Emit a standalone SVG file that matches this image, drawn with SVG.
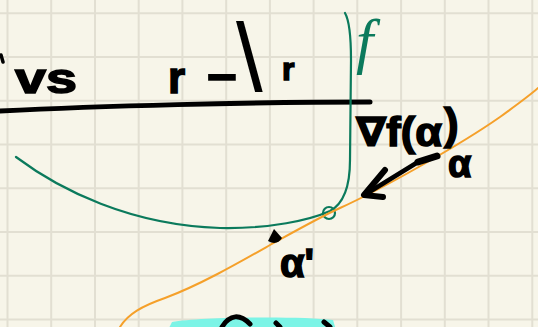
<svg xmlns="http://www.w3.org/2000/svg" width="538" height="327" viewBox="0 0 538 327">
  <style>
    .grid { stroke: #e2dfd2; stroke-width: 2; }
    .ink { fill: #000; stroke: #000; stroke-width: 1.5; font-family: "Liberation Sans", "DejaVu Sans", sans-serif; font-weight: bold; }
    .green { fill: none; stroke: #0b7a5c; stroke-width: 2.2; stroke-linecap: round; stroke-linejoin: round; }
    .orange { fill: none; stroke: #f5a02a; stroke-width: 2; stroke-linecap: round; }
    .black { fill: none; stroke: #000; stroke-linecap: round; stroke-linejoin: round; }
  </style>
  <rect width="538" height="327" fill="#f7f5e9"/>
  <g id="grid">
    <path class="grid" d="M7.5,0V327 M51.2,0V327 M95,0V327 M138.7,0V327 M182.4,0V327 M226.2,0V327 M269.9,0V327 M313.6,0V327 M357.3,0V327 M401.1,0V327 M444.8,0V327 M488.5,0V327 M532.3,0V327 M0,13.3H538 M0,57H538 M0,100.7H538 M0,144.5H538 M0,188.2H538 M0,231.9H538 M0,275.7H538 M0,319.4H538"/>
  </g>
  <g id="cyan-highlight">
    <path d="M172,322 C200,317 300,316 333,320 L336,330 L168,330 Z" fill="#7cf4e6"/>
    <path class="black" stroke-width="5" d="M222,327 C230,314 240,314 250,324 M276,323 L280,327 M324,322 L330,327"/>
  </g>
  <g id="top-line">
    <path class="black" stroke-width="5" d="M0,111 C100,106 250,102 370,102"/>
    <path class="black" stroke-width="3.5" d="M1,55 L3,62"/>
  </g>
  <g id="label-vs">
    <text class="ink" x="15" y="93" font-size="42" textLength="62" lengthAdjust="spacingAndGlyphs">vs</text>
  </g>
  <g id="label-r-l-r">
    <text class="ink" x="168" y="93" font-size="44">r</text>
    <text class="ink" x="206" y="89" font-size="44" textLength="32" lengthAdjust="spacingAndGlyphs">-</text>
    <text x="236" y="91" font-size="96" fill="#000" font-family="Liberation Sans, DejaVu Sans, sans-serif">\</text>
    <text class="ink" x="282" y="80" font-size="32">r</text>
  </g>
  <g id="f-curve">
    <path class="green" d="M16,157 C60,190 130,225 220,228 C270,229 310,220 330,211 C345,203 350,185 350,160 L351,60 C351,35 349,20 345,13"/>
    <circle cx="329" cy="213" r="6" class="green"/>
    <text x="356" y="62" font-size="62" font-style="italic" fill="#0b7a5c" font-family="Liberation Serif, DejaVu Serif, serif">f</text>
  </g>
  <g id="tangent-line">
    <path class="orange" d="M120,327 C128,314 142,306 165,298 C200,285 240,262 270,245 C290,234 320,217 340,208 C380,190 460,145 500,117 C515,106 528,97 538,88"/>
  </g>
  <g id="connectors">
    <path class="black" stroke-width="7" d="M437,156 L418,162"/>
    <path class="black" stroke-width="4.5" d="M418,162 L366,194"/>
    <path class="black" stroke-width="6" d="M385,170 L364,195 L383,197"/>
  </g>
  <g id="label-grad">
    <text class="ink" x="356" y="146" font-size="40" textLength="86" lengthAdjust="spacingAndGlyphs">∇f(α</text>
    <text class="ink" x="444" y="139" font-size="44">)</text>
    <text class="ink" x="448" y="177" font-size="38">α</text>
  </g>
  <g id="label-x-prime">
    <path d="M268,241 L274,229 L282,238 Q277,246 268,241 Z" fill="#000"/>
    <text class="ink" x="280" y="277" font-size="40">α'</text>
  </g>
</svg>
